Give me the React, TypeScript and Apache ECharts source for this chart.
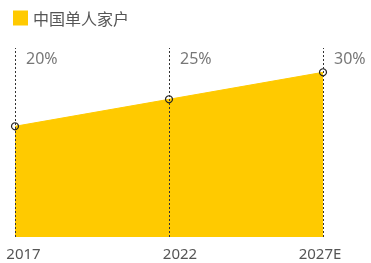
import React, { useEffect, useRef } from "react";
import * as echarts from "echarts";

const categories = ["2017", "2022", "2027E"];
const shareValues = [20, 25, 30];
const seriesName = "中国单人家户";
const labelShifts = [17, 22, -6];

const YELLOW = "#FFCA00";
const CJK = "'Noto Sans CJK SC', 'Noto Sans', sans-serif";
const NUM = "'Noto Sans', sans-serif";

export default function App() {
  const ref = useRef<HTMLDivElement>(null);
  useEffect(() => {
    if (!ref.current) return;
    const chart = echarts.init(ref.current, null, { renderer: "svg" });
    const yMin = -0.5;
    const yMax = 34.5;
    chart.setOption({
      animation: false,
      textStyle: { fontFamily: NUM },
      legend: {
        data: [{ name: seriesName, itemStyle: { color: YELLOW, borderWidth: 0 } }],
        left: 8,
        top: 5,
        icon: "rect",
        itemWidth: 15,
        itemHeight: 15,
        itemGap: 5,
        textStyle: { fontSize: 16, color: "#555", fontFamily: CJK },
      },
      grid: { left: 15, right: 48, top: 48, bottom: 26, outerBoundsMode: "none", containLabel: false },
      xAxis: {
        type: "category",
        boundaryGap: false,
        data: categories.map((c, i) => ({
          value: c,
          textStyle: {
            padding: labelShifts[i] >= 0 ? [0, 0, 0, labelShifts[i]] : [0, -labelShifts[i], 0, 0],
          },
        })),
        axisLine: { show: false },
        axisTick: { show: false },
        axisLabel: { fontSize: 15, color: "#555", margin: 8, fontFamily: NUM, lineHeight: 16 },
      },
      yAxis: {
        type: "value",
        min: yMin,
        max: yMax,
        show: false,
        splitLine: { show: false },
      },
      series: [
        {
          name: seriesName,
          type: "line",
          data: shareValues,
          symbol: "circle",
          symbolSize: 7,
          itemStyle: { color: "rgba(0,0,0,0)", borderColor: "#222", borderWidth: 1.2 },
          lineStyle: { color: YELLOW, width: 1 },
          areaStyle: { color: YELLOW, opacity: 1, origin: "start" },
          z: 2,
          markLine: {
            silent: true,
            symbol: "none",
            label: { show: false },
            lineStyle: { color: "#333", type: [2, 2], width: 1 },
            data: categories.map((c) => ({ xAxis: c })),
            z: 3,
          },
        },
        {
          name: "labels",
          type: "scatter",
          data: shareValues.map((v, i) => [categories[i], yMax, v]),
          symbolSize: 0,
          label: {
            show: true,
            position: [11, 1],
            align: "left",
            verticalAlign: "top",
            fontSize: 16,
            lineHeight: 17,
            color: "#555",
            fontFamily: NUM,
            formatter: (p: any) => `${p.value[2]}%`,
          },
          silent: true,
          z: 4,
        },
      ],
    });
    return () => chart.dispose();
  }, []);
  return (
    <div
      ref={ref}
      style={{ position: "fixed", left: 0, top: 0, width: 371, height: 263 }}
    />
  );
}
